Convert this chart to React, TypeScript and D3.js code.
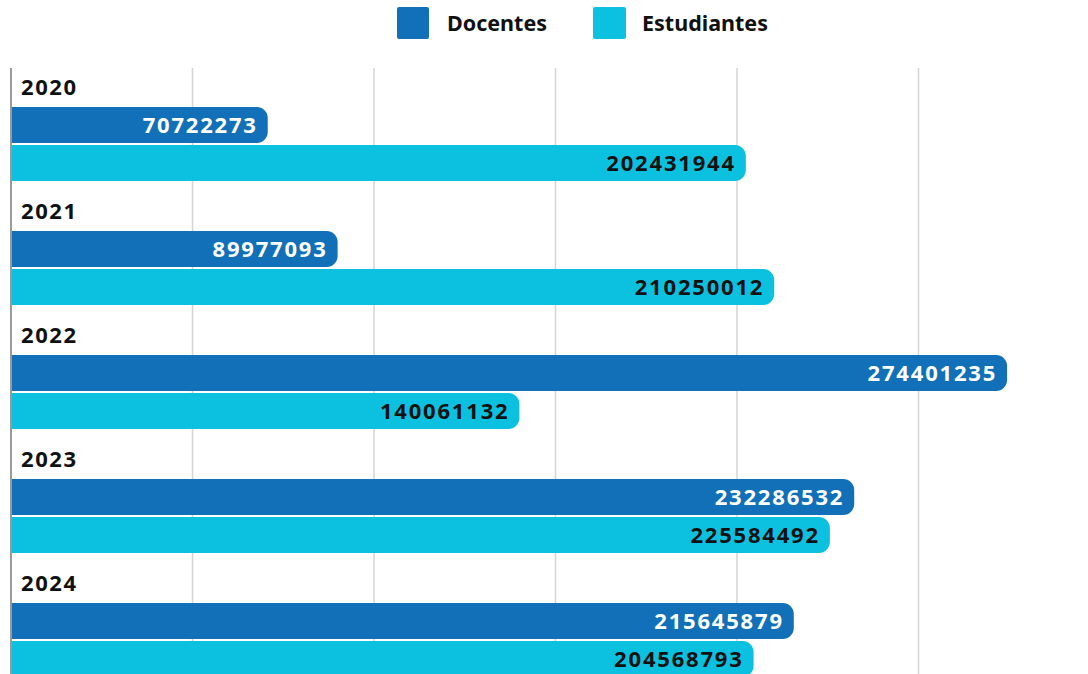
import React from "react";
import * as d3 from "d3";

const years = ["2020", "2021", "2022", "2023", "2024"];
const docentes = [70722273, 89977093, 274401235, 232286532, 215645879];
const estudiantes = [202431944, 210250012, 140061132, 225584492, 204568793];
const gridTicks = [50000000, 100000000, 150000000, 200000000, 250000000];
const seriesNames = ["Docentes", "Estudiantes"];

const W = 1088;
const H = 674;
const COL_DOC = "#1170b7";
const COL_EST = "#0cc1df";
const FONT = "'Noto Sans', 'Open Sans', sans-serif";

function barPath(x0: number, x1: number, y: number, h: number, r: number) {
  const rr = Math.min(r, (x1 - x0) / 2, h / 2);
  return `M${x0},${y}H${x1 - rr}A${rr},${rr} 0 0 1 ${x1},${y + rr}V${y + h - rr}A${rr},${rr} 0 0 1 ${x1 - rr},${y + h}H${x0}Z`;
}

export default function App() {
  const x = d3.scaleLinear().domain([0, 300000000]).range([11, 1100]);
  const groupY = d3.scaleBand<string>().domain(years).range([71, 71 + 124 * years.length]).padding(0);
  const barH = 36;
  const series = [
    { name: seriesNames[0], values: docentes, color: COL_DOC, text: "#ffffff", off: 36 },
    { name: seriesNames[1], values: estudiantes, color: COL_EST, text: "#111111", off: 74 },
  ];
  return (
    <div style={{ position: "fixed", left: 0, top: 0, width: W, height: H, background: "#fff" }}>
      <svg width={W} height={H} style={{ display: "block" }}>
        <g fontFamily={FONT} fontWeight={700} fontSize={21.5} fill="#111">
          <rect x={397} y={7} width={32} height={32} rx={2} fill={COL_DOC} />
          <text x={447} y={31}>{seriesNames[0]}</text>
          <rect x={593} y={7} width={33} height={32} rx={2} fill={COL_EST} />
          <text x={642} y={31}>{seriesNames[1]}</text>
        </g>
        {gridTicks.map((t) => (
          <line key={t} x1={x(t)} x2={x(t)} y1={68} y2={H} stroke="#d4d4d4" strokeWidth={1.5} />
        ))}
        <line x1={11} x2={11} y1={68} y2={H} stroke="#9a9a9a" strokeWidth={2} />
        {years.map((yr, i) => {
          const gy = groupY(yr) as number;
          return (
            <g key={yr}>
              <text x={21} y={gy + 24} fontFamily={FONT} fontWeight={700} fontSize={22} letterSpacing={1.6} fill="#111">
                {yr}
              </text>
              {series.map((s) => {
                const v = s.values[i];
                const y0 = gy + s.off;
                const x1 = x(v);
                return (
                  <g key={s.name}>
                    <path d={barPath(12, x1, y0, barH, 11)} fill={s.color} />
                    <text
                      x={x1 - 10}
                      y={y0 + barH / 2 + 8}
                      textAnchor="end"
                      fontFamily={FONT}
                      fontWeight={700}
                      fontSize={22}
                      letterSpacing={1.8}
                      fill={s.text}
                    >
                      {v}
                    </text>
                  </g>
                );
              })}
            </g>
          );
        })}
      </svg>
    </div>
  );
}
